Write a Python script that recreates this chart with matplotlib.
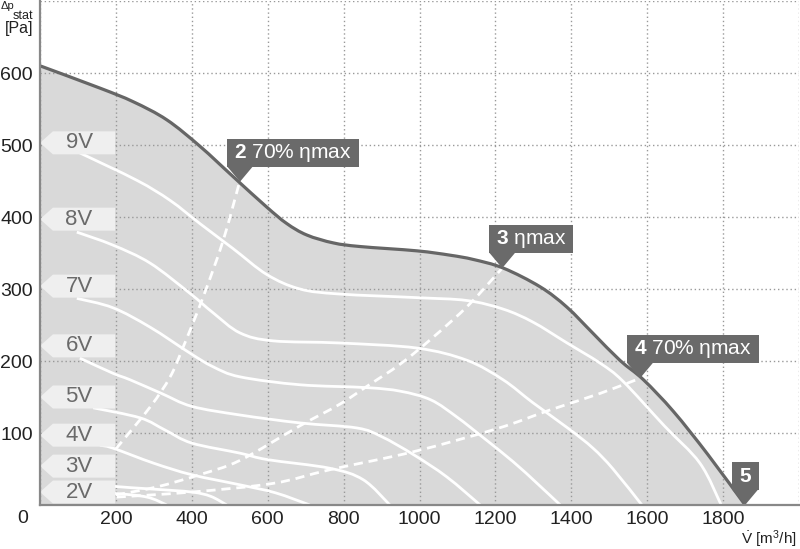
import numpy as np
import matplotlib.pyplot as plt
from matplotlib.patches import Polygon, Rectangle, PathPatch
from matplotlib.path import Path
from matplotlib.transforms import ScaledTranslation

plt.rcParams['font.family'] = ['Liberation Sans', 'DejaVu Sans']
plt.rcParams['mathtext.fontset'] = 'custom'
plt.rcParams['mathtext.rm'] = 'Liberation Sans'
plt.rcParams['mathtext.it'] = 'Liberation Sans:italic'
plt.rcParams['mathtext.bf'] = 'Liberation Sans:bold'

# maximum characteristic (outer curve)
max_flow = [0, 158, 246, 334, 422, 509, 597, 650, 703, 773, 843, 993, 1080, 1142, 1221, 1318, 1388, 1458, 1528, 1590, 1669, 1760, 1858]
max_pressure = [610, 579, 560, 535, 498, 456, 414, 391, 375, 364, 359, 353, 347, 341, 329, 303, 275, 238, 201, 174, 130, 70, 0]

# fan curves per control voltage
v9_flow = [105, 255, 343, 421, 509, 598, 685, 790, 993, 1125, 1221, 1299, 1389, 1476, 1536, 1645, 1739, 1795]
v9_pressure = [489, 451, 423, 391, 356, 320, 300, 293, 288, 284, 272, 254, 225, 197, 172, 110, 58, 0]
v8_flow = [97, 192, 290, 395, 456, 527, 614, 790, 993, 1125, 1220, 1299, 1393, 1457, 1510, 1586]
v8_pressure = [379, 361, 336, 294, 267, 239, 228, 225, 218, 201, 174, 142, 106, 79, 50, 0]
v7_flow = [97, 192, 290, 395, 456, 527, 685, 862, 950, 1030, 1099, 1167, 1247, 1310, 1371]
v7_pressure = [287, 274, 247, 211, 192, 178, 167, 163, 158, 146, 122, 94, 60, 30, 0]
v6_flow = [105, 192, 237, 320, 400, 527, 685, 835, 900, 984, 1072, 1160]
v6_pressure = [204, 183, 174, 155, 137, 125, 114, 107, 95, 70, 39, 0]
v5_flow = [140, 264, 330, 400, 527, 600, 764, 852, 922]
v5_pressure = [135, 121, 104, 86, 72, 63, 51, 35, 0]
v4_flow = [158, 192, 300, 400, 527, 620, 711]
v4_pressure = [83, 79, 58, 42, 28, 17, 0]
v3_flow = [150, 192, 300, 400, 450, 492]
v3_pressure = [30, 26, 22, 18, 12, 0]
v2_flow = [150, 198, 282, 334]
v2_pressure = [16, 16, 11, 0]
voltage_names = ['9V', '8V', '7V', '6V', '5V', '4V', '3V', '2V']

# system curves through the operating points (dashed)
sys2_flow = [200, 290, 343, 377, 430, 483, 527]
sys2_pressure = [78, 136, 178, 219, 289, 368, 451]
sys3_flow = [200, 307, 420, 527, 685, 790, 862, 950, 1036, 1130, 1218]
sys3_pressure = [14, 25, 42, 62, 110, 140, 165, 196, 233, 278, 329]
sys4_flow = [202, 400, 614, 764, 984, 1204, 1344, 1476, 1581]
sys4_pressure = [11, 18, 30, 49, 74, 106, 132, 155, 176]

# operating points
point_ids = ['2', '3', '4', '5']
point_texts = [' 70% ηmax', ' ηmax', ' 70% ηmax', '']
point_flow = [527, 1218, 1581, 1858]
point_pressure = [449, 329, 176, 0]


def smooth_path(xs, ys):
    # Catmull-Rom through the read points, drawn as cubic Bezier segments
    pts = np.column_stack([xs, ys]).astype(float)
    n = len(pts)
    verts = [pts[0]]
    codes = [Path.MOVETO]
    for i in range(n - 1):
        p0 = pts[i - 1] if i > 0 else pts[i]
        p1 = pts[i]
        p2 = pts[i + 1]
        p3 = pts[i + 2] if i + 2 < n else pts[i + 1]
        verts += [p1 + (p2 - p0) / 6, p2 - (p3 - p1) / 6, p2]
        codes += [Path.CURVE4] * 3
    return verts, codes


fig = plt.figure(figsize=(8, 5.49), dpi=100)
ax = fig.add_axes([40 / 800, 44 / 549, 759 / 800, 504 / 549])
ax.set_xlim(0, 2000)
ax.set_ylim(0, 700)

mv, mc = smooth_path(max_flow, max_pressure)
area = Path(mv + [(0, 0), (0, 0)], mc + [Path.LINETO, Path.CLOSEPOLY])
ax.add_patch(PathPatch(area, fc='#d9d9d9', ec='none', zorder=1))
ax.add_patch(PathPatch(Path(mv, mc), fc='none', ec='#666666', lw=2.3, zorder=3.5,
                       joinstyle='round', capstyle='butt'))

curves = [(v9_flow, v9_pressure), (v8_flow, v8_pressure), (v7_flow, v7_pressure),
          (v6_flow, v6_pressure), (v5_flow, v5_pressure), (v4_flow, v4_pressure),
          (v3_flow, v3_pressure), (v2_flow, v2_pressure)]
for fx, fy in curves:
    v, c = smooth_path(fx, fy)
    ax.add_patch(PathPatch(Path(v, c), fc='none', ec='white', lw=2, zorder=3))

for fx, fy in [(sys2_flow, sys2_pressure), (sys3_flow, sys3_pressure), (sys4_flow, sys4_pressure)]:
    v, c = smooth_path(fx, fy)
    ax.add_patch(PathPatch(Path(v, c), fc='none', ec='white', lw=2, ls=(0, (3.3, 2.1)), zorder=3))

# voltage tags on the left
label_y = [503, 397, 304, 221, 150, 97, 54, 18]
for name, yc in zip(voltage_names, label_y):
    h = 16
    tag = Polygon([(0, yc), (34, yc + h), (198, yc + h), (198, yc - h), (34, yc - h)],
                  closed=True, fc='#efefef', ec='none', zorder=4)
    ax.add_patch(tag)
    ax.text(103, yc, name, ha='center', va='center', fontsize=16, color='#6a6a6a', zorder=5)

# operating point markers
fig.canvas.draw()
renderer = fig.canvas.get_renderer()
for pid, ptxt, px_, py_ in zip(point_ids, point_texts, point_flow, point_pressure):
    trans = fig.dpi_scale_trans + ScaledTranslation(px_, py_, ax.transData)
    t = ax.text(-6 / 100, 29 / 100, r'$\mathbf{%s}$' % pid + ptxt, transform=trans,
                ha='left', va='center', fontsize=15, color='white', zorder=7, clip_on=False)
    w = t.get_window_extent(renderer).width
    box = Rectangle((-13 / 100, 15 / 100), (w + 14) / 100, 28 / 100, transform=trans,
                    fc='#6a6a6a', ec='none', zorder=6, clip_on=False)
    ax.add_patch(box)
    tri = Polygon([(-13 / 100, 15.5 / 100), (13 / 100, 15.5 / 100), (0, 0)], closed=True,
                  transform=trans, fc='#6a6a6a', ec='none', zorder=6, clip_on=False)
    ax.add_patch(tri)

ax.set_xticks(range(0, 2001, 200))
ax.set_xticklabels([''] + [str(v) for v in range(200, 1801, 200)] + [''])
ax.set_yticks(range(0, 701, 100))
ax.set_yticklabels([''] + [str(v) for v in range(100, 601, 100)] + [''])
ax.tick_params(length=0, labelsize=14, colors='#222222')
ax.tick_params(axis='y', pad=5)
ax.tick_params(axis='x', pad=4)
ax.set_axisbelow(False)
ax.grid(True, linestyle=(0, (1, 2)), color='#999999', lw=1)

for s in ['top', 'right']:
    ax.spines[s].set_visible(False)
for s in ['left', 'bottom']:
    ax.spines[s].set_color('#888888')
    ax.spines[s].set_linewidth(1.6)
    ax.spines[s].set_zorder(8)

ax.annotate('0', xy=(0, 0), xytext=(-12.5, -10), textcoords='offset points',
            ha='center', va='center', fontsize=14, color='#222222', annotation_clip=False)

# axis titles
fig.text(1 / 800, 1 - 9 / 549, 'Δp', ha='left', va='baseline', fontsize=8, color='#222222')
fig.text(33 / 800, 1 - 16 / 549, 'stat', ha='right', va='center', fontsize=9, color='#222222')
fig.text(33 / 800, 1 - 29 / 549, '[Pa]', ha='right', va='center', fontsize=11.5, color='#222222')
fig.text(797 / 800, 1 - 539 / 549, r'$\dot{\mathrm{V}}$ [m$^3$/h]', ha='right', va='center',
         fontsize=11, color='#222222')

fig.savefig('out.png', dpi=100)
